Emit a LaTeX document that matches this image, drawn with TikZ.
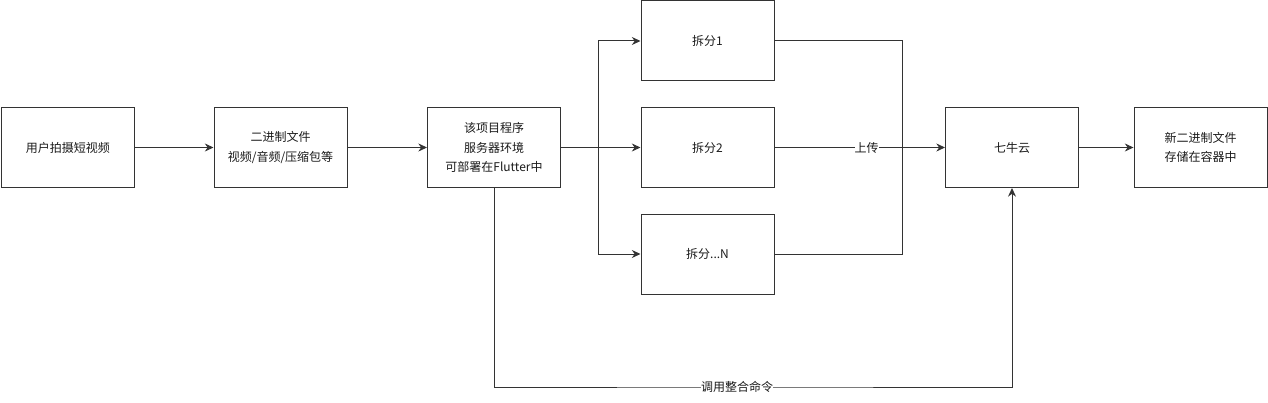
\documentclass[tikz,border=0pt]{standalone}
\usepackage{fontspec}
\setmainfont{Noto Sans CJK SC}
\usetikzlibrary{arrows.meta}
\definecolor{linegray}{HTML}{333333}
\definecolor{textgray}{HTML}{1A1A1A}

\begin{document}
\begin{tikzpicture}[x=0.75pt, y=-0.75pt, line width=0.75pt,
        box/.style={draw=linegray, minimum width=99.75pt, minimum height=60pt, inner sep=0pt,
            align=center, text=textgray, font=\fontsize{9}{14.5}\selectfont},
        flow/.style={draw=linegray, -{Stealth[length=6.5pt, width=6pt]}},
        lbl/.style={fill=white, inner sep=0pt, text=textgray, font=\fontsize{9}{11}\selectfont}]
    \useasboundingbox (0,0) rectangle (1268,403);

    \node[box] (shoot)  at (68,147.5)   {用户拍摄短视频};
    \node[box] (binary) at (280.5,147.5) {二进制文件\\视频/音频/压缩包等};
    \node[box] (server) at (494,147.5)  {该项目程序\\服务器环境\\可部署在Flutter中};
    \node[box] (part1)  at (707.5,41)   {拆分1};
    \node[box] (part2)  at (707.5,147.5) {拆分2};
    \node[box] (partn)  at (707.5,254)  {拆分...N};
    \node[box] (qiniu)  at (1012,147.5) {七牛云};
    \node[box] (result) at (1200.5,147.5) {新二进制文件\\存储在容器中};

    \coordinate (fork) at (598,147.5);
    \coordinate (join) at (902,147.5);
    \coordinate (cmd)  at (737,387);

    \draw[flow] (shoot) -- (binary);
    \draw[flow] (binary) -- (server);
    \draw[flow] (server) -- (part2);
    \draw[flow] (fork) |- (part1);
    \draw[flow] (fork) |- (partn);
    \draw[linegray] (part1) -| (join);
    \draw[linegray] (partn) -| (join);
    \draw[flow] (part2) -- node[lbl, pos=0.54] {上传} (qiniu);
    \draw[flow] (qiniu) -- (result);

    % integrate command
    \draw[flow] (server.south) |- (cmd) -| (qiniu.south);
    \node[lbl] at (cmd) {调用整合命令};
\end{tikzpicture}
\end{document}
